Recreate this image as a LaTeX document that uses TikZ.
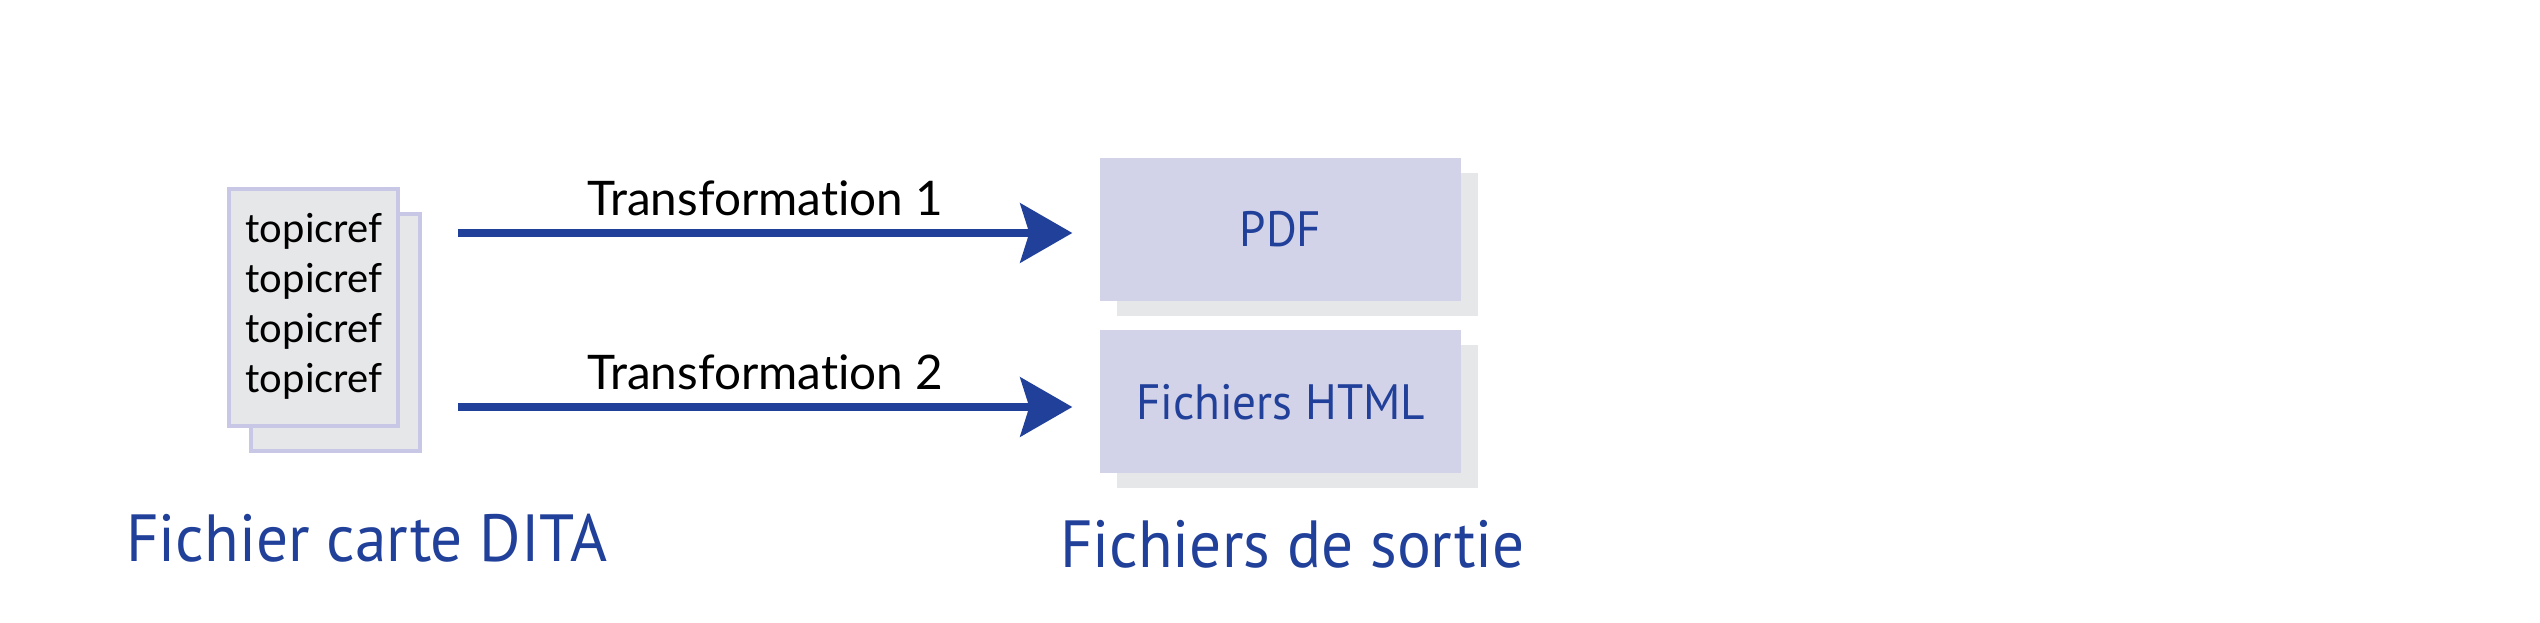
\documentclass[tikz,border=0pt]{standalone}
\usepackage{fontspec}
\setmainfont{Lato}[Ligatures=NoCommon]
\newfontfamily\myriad{PT Sans}[FakeStretch=0.95]
\usetikzlibrary{arrows.meta, positioning}
\definecolor{ditablue}{HTML}{21409A}
\definecolor{boxblue}{HTML}{D2D2E8}
\definecolor{shadowgray}{HTML}{E6E7E9}
\definecolor{pageline}{HTML}{C8C8E6}
\begin{document}
\begin{tikzpicture}[x=0.3pt,y=-0.3pt,>={Stealth[length=15.6pt,width=17.7pt,inset=2.7pt]},
        every node/.style={inner sep=0pt}]
        \tikzstyle{page}=[draw=pageline,line width=1.2pt,fill=shadowgray,minimum width=50.7pt,minimum height=71.1pt]
        \tikzstyle{outbox}=[fill=boxblue,minimum width=108.3pt,minimum height=42.9pt,text=ditablue,font=\myriad\fontsize{14.9}{17}\selectfont]
        \tikzstyle{boxshadow}=[outbox,fill=shadowgray]
        \tikzstyle{flow}=[->,draw=ditablue,line width=2.4pt]
        \tikzstyle{caption}=[anchor=base,text=ditablue,font=\myriad\fontsize{20}{24}\selectfont]
        \useasboundingbox (0,0) rectangle (2540,623);
        % fichier carte
        \node[page](docback) at (335.5,333){};
        \node[page](doc) at (313.5,307.5){};
        \foreach \i in {0,...,3}
          \node[anchor=base west,font=\fontsize{12}{14}\selectfont](ref\i) at (245,243+50*\i){topicref};
        % fichiers de sortie
        \node[boxshadow](pdfshadow) at (1297.5,244.5){};
        \node[outbox](pdf) at (1280.5,229.5){PDF};
        \node[boxshadow](htmlshadow) at (1297.5,417){};
        \node[outbox](html) at (1280.5,402){Fichiers HTML};
        % transformations
        \coordinate (from1) at (458,233);
        \coordinate (from2) at (458,407);
        \draw[flow] (from1) -- ([xshift=-8.1pt]pdf.west |- from1)
          node[midway,above=3.9pt,font=\fontsize{14.3}{17}\selectfont](trans1){Transformation 1};
        \draw[flow] (from2) -- ([xshift=-8.1pt]html.west |- from2)
          node[midway,above=3.9pt,font=\fontsize{14.3}{17}\selectfont](trans2){Transformation 2};
        \node[caption](doclabel) at (367,561.5){Fichier carte DITA};
        \node[caption](outlabel) at (1292.5,568){Fichiers de sortie};
     \end{tikzpicture}
\end{document}
